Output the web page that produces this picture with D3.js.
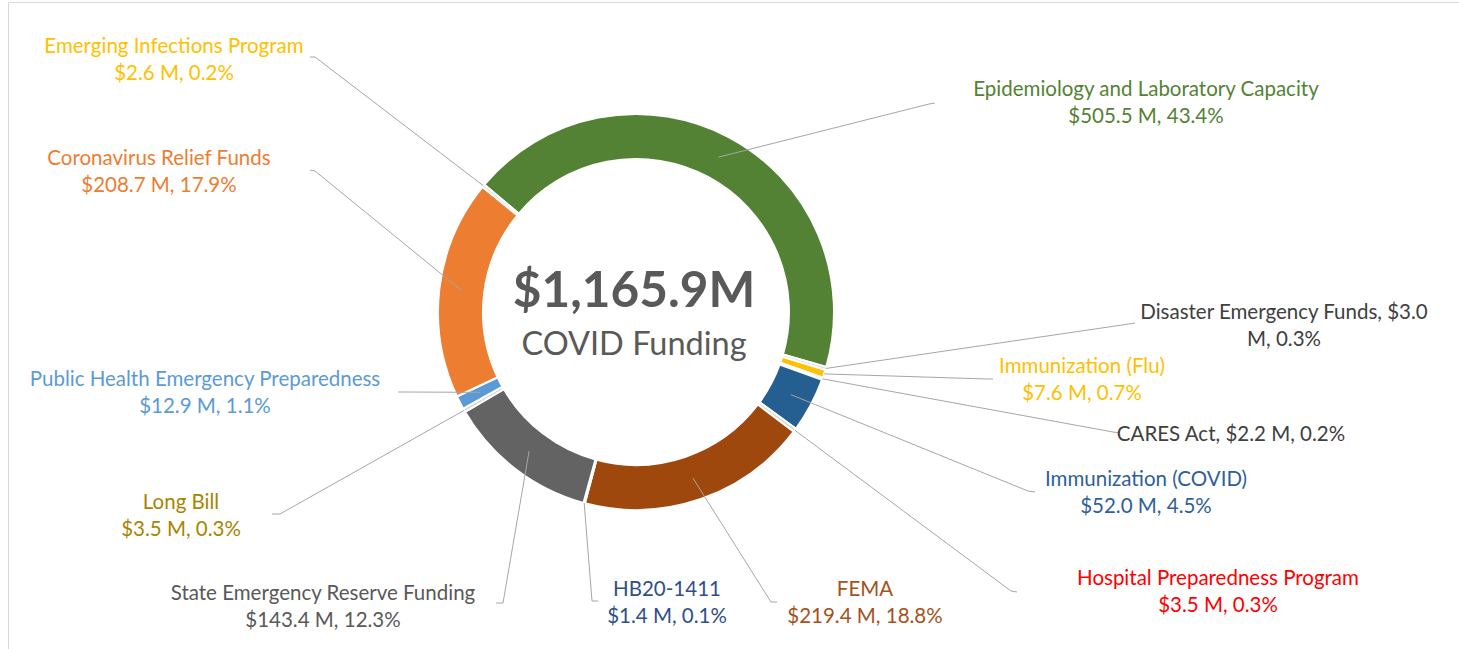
<!DOCTYPE html>
<html>
<head>
<meta charset="utf-8">
<script src="https://cdn.jsdelivr.net/npm/d3@7"></script>
<style>
  body { margin: 0; background: #fff; }
  svg { display: block; font-family: Lato, "Open Sans", sans-serif; }
</style>
</head>
<body>
<svg id="chart"></svg>
<script>
// funding sources, in the order the ring is drawn (clockwise)
const categories = [
  "Epidemiology and Laboratory Capacity",
  "Disaster Emergency Funds",
  "Immunization (Flu)",
  "CARES Act",
  "Immunization (COVID)",
  "Hospital Preparedness Program",
  "FEMA",
  "HB20-1411",
  "State Emergency Reserve Funding",
  "Long Bill",
  "Public Health Emergency Preparedness",
  "Coronavirus Relief Funds",
  "Emerging Infections Program"
];
// $ millions
const funding = [505.5, 3.0, 7.6, 2.2, 52.0, 3.5, 219.4, 1.4, 143.4, 3.5, 12.9, 208.7, 2.6];
const totalFunding = 1165.9;
const centerTitle = "COVID Funding";

// styles
const sliceColors = ["#548235", "#d6d6d6", "#ffc000", "#d6d6d6", "#255e91", "#d6d6d6",
  "#9e480e", "#d6d6d6", "#636363", "#d6d6d6", "#5b9bd5", "#ed7d31", "#d6d6d6"];
const labelColors = ["#548235", "#404040", "#ffc000", "#404040", "#2f5f98", "#ff0000",
  "#a5521c", "#2f4f8a", "#595959", "#a88500", "#5b9bd5", "#ed7d31", "#ffc000"];

// label layout (manual, like the original): center x, first baseline, leader elbow and end
const labelLayout = [
  { x: 1146, y: 96, mode: "stack", elbow: [929, 104], end: [935, 103] },
  { x: 1284, y: 319, mode: "wrap", elbow: [1129, 324], end: [1135, 323] },
  { x: 1082, y: 373, mode: "stack", elbow: [987, 379], end: [993, 379] },
  { x: 1231, y: 441, mode: "inline", elbow: [1113, 432], end: [1120, 433] },
  { x: 1146, y: 486, mode: "stack", elbow: [1028, 491], end: [1035, 492] },
  { x: 1218, y: 585, mode: "stack", elbow: [1011, 591], end: [1017, 592] },
  { x: 865, y: 596, mode: "stack", elbow: [771, 602], end: [777, 602] },
  { x: 667, y: 596, mode: "stack", elbow: [592, 601], end: [598, 601] },
  { x: 323, y: 600, mode: "stack", elbow: [503, 603], end: [496, 603] },
  { x: 181, y: 509, mode: "stack", elbow: [280, 514], end: [272, 514] },
  { x: 205, y: 386, mode: "stack", elbow: [404, 392], end: [398, 392] },
  { x: 159, y: 165, mode: "stack", elbow: [315, 171], end: [310, 170] },
  { x: 174, y: 53, mode: "stack", elbow: [315, 57], end: [310, 57] }
];

const W = 1459, H = 649;
const cx = 636, cy = 312;
const outerR = 198, innerR = 153;
const startAngle = -50 * Math.PI / 180;

const svg = d3.select("#chart").attr("width", W).attr("height", H);

// thin frame on top and left like the screenshot
svg.append("path")
  .attr("d", `M8.5,${H} V2.5 H${W}`)
  .attr("fill", "none")
  .attr("stroke", "#d9d9d9");

const data = categories.map((name, i) => ({ name, value: funding[i], i }));

const pie = d3.pie()
  .value(d => d.value)
  .sort(null)
  .startAngle(startAngle)
  .endAngle(startAngle + 2 * Math.PI);

const arcs = pie(data);

const arc = d3.arc().innerRadius(innerR).outerRadius(outerR);

const g = svg.append("g").attr("transform", `translate(${cx},${cy})`);

g.selectAll("path.slice")
  .data(arcs)
  .enter()
  .append("path")
  .attr("class", "slice")
  .attr("d", arc)
  .attr("fill", d => sliceColors[d.data.i])
  .attr("stroke", "#fff")
  .attr("stroke-width", 2);

// leader lines: big slices start mid-band, small ones at the outer edge
const fmtM = d3.format(".1f");
function pct(v) { return fmtM(v / totalFunding * 100); }

arcs.forEach(d => {
  const lay = labelLayout[d.data.i];
  const mid = (d.startAngle + d.endAngle) / 2;
  const share = d.data.value / totalFunding;
  const r = share >= 0.01 ? (innerR + outerR) / 2 : outerR;
  const sx = cx + r * Math.sin(mid);
  const sy = cy - r * Math.cos(mid);
  svg.append("path")
    .attr("d", `M${sx},${sy} L${lay.elbow[0]},${lay.elbow[1]} L${lay.end[0]},${lay.end[1]}`)
    .attr("fill", "none")
    .attr("stroke", "#a6a6a6")
    .attr("stroke-width", 1);
});

// labels
const lineH = 26.6;
data.forEach(d => {
  const lay = labelLayout[d.i];
  const money = `$${fmtM(d.value)} M, ${pct(d.value)}%`;
  let lines;
  if (lay.mode === "inline") {
    lines = [`${d.name}, ${money}`];
  } else if (lay.mode === "wrap") {
    const full = `${d.name}, ${money}`;
    const cut = full.lastIndexOf(" M,");
    lines = [full.slice(0, cut), full.slice(cut + 1)];
  } else {
    lines = [d.name, money];
  }
  const t = svg.append("text")
    .attr("text-anchor", "middle")
    .attr("font-size", 20.5)
    .attr("fill", labelColors[d.i]);
  lines.forEach((s, k) => {
    t.append("tspan").attr("x", lay.x).attr("y", lay.y + k * lineH).text(s);
  });
});

// center total
svg.append("text")
  .attr("x", cx - 2).attr("y", 307)
  .attr("text-anchor", "middle")
  .attr("font-size", 49.5)
  .attr("font-weight", "bold")
  .attr("fill", "#595959")
  .text(`$${d3.format(",.1f")(totalFunding)}M`);

svg.append("text")
  .attr("x", cx - 2).attr("y", 355)
  .attr("text-anchor", "middle")
  .attr("font-size", 32.5)
  .attr("fill", "#595959")
  .text(centerTitle);
</script>
</body>
</html>
